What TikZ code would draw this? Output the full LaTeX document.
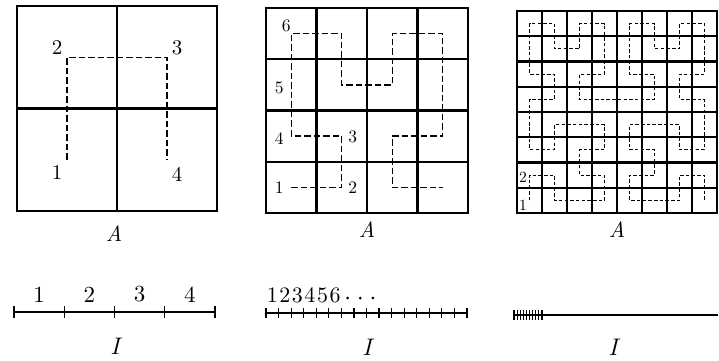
\documentclass[tikz,border=0pt]{standalone}
\usepackage{fontspec}
\setmainfont{lmroman10-regular}[Extension=.otf, ItalicFont=lmroman10-italic]
\usetikzlibrary{calc}
\tikzset{
  cellline/.style={line width=2.1pt},
  outline/.style={line width=2.5pt},
  hilbert/.style={line width=1.3pt, dash pattern=on 6.5pt off 3pt},
  finehilbert/.style={line width=1.2pt, dash pattern=on 3.5pt off 2.2pt},
  axisline/.style={line width=2.4pt},
  tickline/.style={line width=1.2pt},
  num/.style={inner sep=0pt, font=\fontsize{#1}{#1}\selectfont},
  letterlab/.style={inner sep=0pt, font=\fontsize{#1}{#1}\selectfont\itshape},
}
\begin{document}
\begin{tikzpicture}[x=1pt, y=-1pt]
\useasboundingbox (0,0) rectangle (719,360);
% first square: 2 x 2
\begin{scope}[xshift=17pt, yshift=-211pt, x=100pt, y=102.5pt]
  \draw[cellline] (1,0) -- (1,2);
  \draw[cellline] (0,1) -- (2,1);
  \draw[outline] (0,0) rectangle (2,2);
  \draw[hilbert, shift={(0.5,0.5)}] plot coordinates {(0,0) (0,1) (1,1) (1,0)};
  \node[num=21, xshift=-10pt, yshift=-13pt] (p1) at (0.5,0.5) {1};
  \node[num=21, xshift=-10pt, yshift=10pt] (p2) at (0.5,1.5) {2};
  \node[num=21, xshift=10pt, yshift=10pt] (p3) at (1.5,1.5) {3};
  \node[num=21, xshift=10pt, yshift=-15pt] (p4) at (1.5,0.5) {4};
\end{scope}
\node[letterlab=22] (A1) at (114,234) {A};
% second square: 4 x 4
\begin{scope}[xshift=266pt, yshift=-213pt, x=50.5pt, y=51.25pt]
  \foreach \k in {1,2,3} {
    \draw[cellline] (\k,0) -- (\k,4);
    \draw[cellline] (0,\k) -- (4,\k);
  }
  \draw[outline] (0,0) rectangle (4,4);
  \draw[hilbert, shift={(0.5,0.5)}] plot coordinates {(0,0) (1,0) (1,1) (0,1)
    (0,2) (0,3) (1,3) (1,2) (2,2) (2,3) (3,3) (3,2) (3,1) (2,1) (2,0) (3,0)};
  \node[num=17.5, xshift=-12pt] (q1) at (0.5,0.5) {1};
  \node[num=17.5, xshift=11pt] (q2) at (1.5,0.5) {2};
  \node[num=17.5, xshift=11pt, yshift=-1pt] (q3) at (1.5,1.5) {3};
  \node[num=17.5, xshift=-12pt, yshift=-2pt] (q4) at (0.5,1.5) {4};
  \node[num=17.5, xshift=-12pt, yshift=-3pt] (q5) at (0.5,2.5) {5};
  \node[num=17.5, xshift=-5pt, yshift=8pt] (q6) at (0.5,3.5) {6};
\end{scope}
\node[letterlab=22] (A2) at (367,229.5) {A};
% third square: 8 x 8
\begin{scope}[xshift=517pt, yshift=-213pt, x=25pt, y=25.25pt]
  \foreach \k in {1,...,7} {
    \draw[cellline] (\k,0) -- (\k,8);
    \draw[cellline] (0,\k) -- (8,\k);
  }
  \draw[outline] (0,0) rectangle (8,8);
  \draw[finehilbert, shift={(0.5,0.5)}] plot coordinates {
    (0,0) (0,1) (1,1) (1,0) (2,0) (3,0) (3,1) (2,1) (2,2) (3,2) (3,3) (2,3) (1,3) (1,2) (0,2) (0,3)
    (0,4) (1,4) (1,5) (0,5) (0,6) (0,7) (1,7) (1,6) (2,6) (2,7) (3,7) (3,6) (3,5) (2,5) (2,4) (3,4)
    (4,4) (5,4) (5,5) (4,5) (4,6) (4,7) (5,7) (5,6) (6,6) (6,7) (7,7) (7,6) (7,5) (6,5) (6,4) (7,4)
    (7,3) (7,2) (6,2) (6,3) (5,3) (4,3) (4,2) (5,2) (5,1) (4,1) (4,0) (5,0) (6,0) (6,1) (7,1) (7,0)};
  \node[num=15.5, xshift=-6.5pt, yshift=-4.5pt] (r1) at (0.5,0.5) {1};
  \node[num=15.5, xshift=-6.5pt, yshift=-2pt] (r2) at (0.5,1.5) {2};
\end{scope}
\node[letterlab=22] (A3) at (617,229.5) {A};
% the intervals
\draw[axisline] (14,312) -- (215,312);
\foreach \i in {0,...,4} \draw[tickline] ({14+50.25*\i},306) -- ++(0,12);
\foreach \d [count=\i from 0] in {1,2,3,4}
  \node[num=23] (u\d) at ({39.1+50.25*\i},294.5) {\d};
\node[letterlab=24] (I1) at (115,346) {I};
\draw[axisline] (266,313) -- (467,313);
\foreach \i in {0,...,16} \draw[tickline] ({266+12.5625*\i},308) -- ++(0,10);
\foreach \d [count=\i from 0] in {1,...,6}
  \node[num=22] (v\d) at ({272.3+12.5625*\i},295.5) {\d};
\foreach \i in {6,7,8} \fill ({272.3+12.5625*\i},298) circle (1.5pt);
\node[letterlab=24] (I2) at (367,347) {I};
\draw[axisline] (514,315) -- (718,315);
\foreach \i in {0,...,9} \draw[tickline] ({514+3.1*\i},310) -- ++(0,10);
\node[letterlab=24] (I3) at (613,347) {I};
\end{tikzpicture}
\end{document}
